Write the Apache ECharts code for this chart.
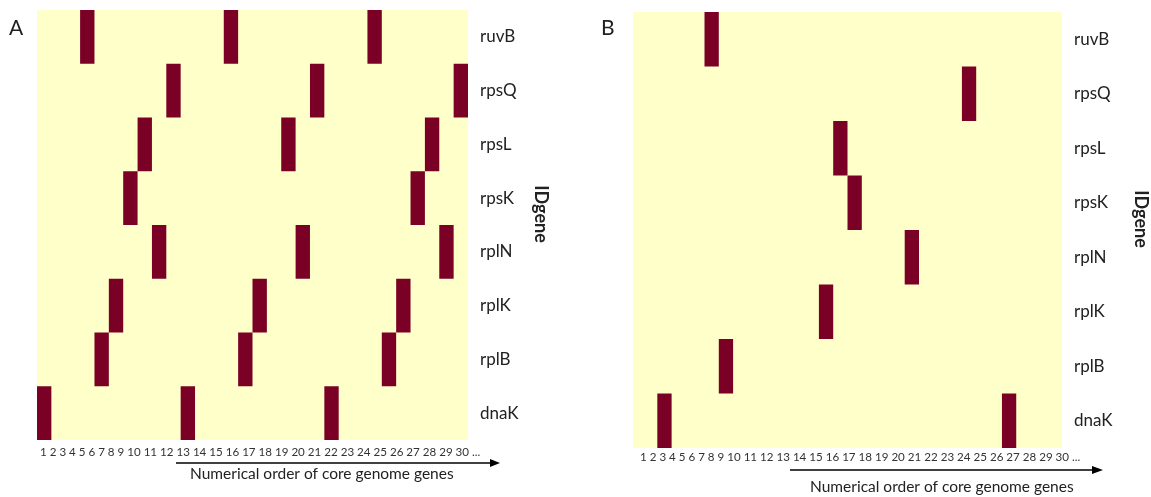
<!DOCTYPE html>
<html>
<head>
<meta charset="utf-8">
<script src="https://cdn.jsdelivr.net/npm/echarts@6/dist/echarts.min.js"></script>
<style>
html,body{margin:0;padding:0;background:#fff;}
#chart{width:1151px;height:497px;}
</style>
</head>
<body>
<div id="chart"></div>
<script>
// ---- data ----
const genes = ['ruvB', 'rpsQ', 'rpsL', 'rpsK', 'rplN', 'rplK', 'rplB', 'dnaK'];
const tickLabels = ['1','2','3','4','5','6','7','8','9','10','11','12','13','14','15','16','17','18','19','20','21','22','23','24','25','26','27','28','29','30','...'];
const xTitle = 'Numerical order of core genome genes';
const yTitle = 'IDgene';
// [column position in core-genome order, gene]
const panelAHits = [
  [4,'ruvB'],[14,'ruvB'],[24,'ruvB'],
  [10,'rpsQ'],[20,'rpsQ'],[30,'rpsQ'],
  [8,'rpsL'],[18,'rpsL'],[28,'rpsL'],
  [7,'rpsK'],[27,'rpsK'],
  [9,'rplN'],[19,'rplN'],[29,'rplN'],
  [6,'rplK'],[16,'rplK'],[26,'rplK'],
  [5,'rplB'],[15,'rplB'],[25,'rplB'],
  [1,'dnaK'],[11,'dnaK'],[21,'dnaK']
];
const panelBHits = [
  [6,'ruvB'],
  [24,'rpsQ'],
  [15,'rpsL'],
  [16,'rpsK'],
  [20,'rplN'],
  [14,'rplK'],
  [7,'rplB'],
  [2.7,'dnaK'],[26.8,'dnaK']
];

// ---- styles ----
const FONT = 'Lato, "Open Sans", sans-serif';
const BG = '#FFFFCA';
const BAR = '#7A0026';

const chart = echarts.init(document.getElementById('chart'), null, {renderer: 'canvas'});

function renderCell(params, api) {
  const c = api.value(0);
  const g = api.value(1);
  const p0 = api.coord([c - 1, g]);
  const p1 = api.coord([c, g]);
  const h = api.size([0, 1])[1];
  return {
    type: 'rect',
    shape: {x: p0[0], y: p0[1] - h / 2, width: p1[0] - p0[0], height: h},
    style: {fill: BAR}
  };
}

function xAxisFor(gridIndex, padLeft, margin) {
  return {
    type: 'value', gridIndex: gridIndex, min: 0, max: 30, interval: 30,
    axisLine: {show: false}, axisTick: {show: false}, splitLine: {show: false},
    axisLabel: {
      show: true, align: 'left', margin: margin, padding: [0, 0, 0, padLeft],
      fontFamily: FONT, fontSize: 11.6, color: '#333',
      formatter: function (v) { return v === 0 ? tickLabels.join(' ') : ''; }
    }
  };
}
function yAxisFor(gridIndex, nameGap) {
  return {
    type: 'category', gridIndex: gridIndex, data: genes, inverse: true, position: 'right',
    axisLine: {show: false}, axisTick: {show: false}, splitLine: {show: false},
    axisLabel: {margin: 12, fontFamily: FONT, fontSize: 17, color: '#222'},
    name: yTitle, nameLocation: 'middle', nameRotate: -90, nameGap: nameGap,
    nameTextStyle: {fontFamily: FONT, fontSize: 18, fontWeight: 'bold', color: '#222', padding: [0, 22, 0, 0]}
  };
}

const option = {
  backgroundColor: '#fff',
  animation: false,
  grid: [
    {left: 37, top: 10, width: 431, height: 430, show: true, backgroundColor: BG, borderWidth: 0},
    {left: 633, top: 12, width: 431, height: 436, show: true, backgroundColor: BG, borderWidth: 0}
  ],
  xAxis: [xAxisFor(0, 3, 6), xAxisFor(1, 7, 3)],
  yAxis: [yAxisFor(0, 64), yAxisFor(1, 70)],
  series: [
    {type: 'custom', xAxisIndex: 0, yAxisIndex: 0, data: panelAHits, encode: {x: 0, y: 1}, renderItem: renderCell},
    {type: 'custom', xAxisIndex: 1, yAxisIndex: 1, data: panelBHits, encode: {x: 0, y: 1}, renderItem: renderCell}
  ],
  graphic: [
    {type: 'text', left: 9, top: 18, style: {text: 'A', font: '21px ' + FONT, fill: '#222'}},
    {type: 'text', left: 601, top: 18, style: {text: 'B', font: '21px ' + FONT, fill: '#222'}},
    {type: 'line', shape: {x1: 176, y1: 463, x2: 492, y2: 463}, style: {stroke: '#000', lineWidth: 1.5}},
    {type: 'polygon', shape: {points: [[490, 459], [500, 463], [490, 467]]}, style: {fill: '#000'}},
    {type: 'text', left: 190, top: 466, style: {text: xTitle, font: '15.5px ' + FONT, fill: '#222'}},
    {type: 'line', shape: {x1: 790, y1: 470, x2: 1094, y2: 470}, style: {stroke: '#000', lineWidth: 1.5}},
    {type: 'polygon', shape: {points: [[1092, 466], [1103, 470], [1092, 474]]}, style: {fill: '#000'}},
    {type: 'text', left: 810, top: 479, style: {text: xTitle, font: '15.5px ' + FONT, fill: '#222'}}
  ]
};
chart.setOption(option);
</script>
</body>
</html>
